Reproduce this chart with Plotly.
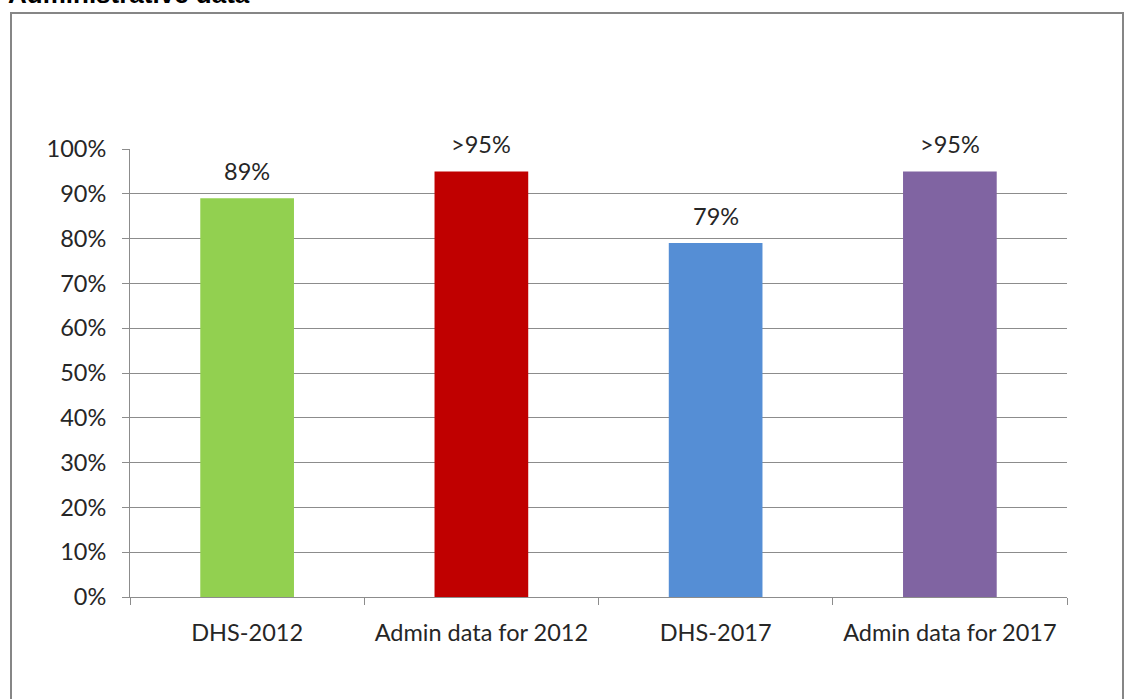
import plotly.graph_objects as go

categories = ["DHS-2012", "Admin data for 2012", "DHS-2017", "Admin data for 2017"]
values = [89, 95, 79, 95]
value_labels = ["89%", ">95%", "79%", ">95%"]
bar_colors = ["#92D050", "#C00000", "#558ED5", "#8064A2"]
y_ticks = list(range(0, 101, 10))
y_tick_labels = [f"{t}%" for t in y_ticks]

W, H = 1129, 699
FONT = "Lato"
FSIZE = 23.5
TEXT = "#262626"
GRID = "#8C8C8C"


def px_x(x):
    return x / W


def px_y(y):
    return 1 - y / H


fig = go.Figure(
    go.Bar(
        x=categories,
        y=values,
        marker=dict(color=bar_colors, line=dict(width=0)),
        width=0.4,
        hoverinfo="x+y",
    )
)

for cat, val, lab in zip(categories, values, value_labels):
    fig.add_annotation(
        x=cat, y=val, text=lab, showarrow=False,
        yanchor="middle", yshift=27,
        font=dict(family=FONT, size=FSIZE, color=TEXT),
    )

# chart title at the top left
fig.add_annotation(
    xref="paper", yref="paper", x=px_x(6), y=px_y(11),
    xanchor="left", yanchor="bottom",
    text="<b>Administrative data</b>", showarrow=False,
    font=dict(family="Liberation Sans", size=26, color="#000000"),
)

# outer frame of the chart area
fig.add_shape(
    type="rect", xref="paper", yref="paper",
    x0=px_x(11), x1=px_x(1123), y0=-0.02, y1=px_y(13),
    line=dict(color="#868686", width=2), fillcolor="rgba(0,0,0,0)",
    layer="below",
)

fig.update_layout(
    width=W, height=H,
    margin=dict(l=0, r=0, t=0, b=0, autoexpand=False),
    paper_bgcolor="white", plot_bgcolor="white",
    showlegend=False,
    font=dict(family=FONT, size=FSIZE, color=TEXT),
    bargap=0.6,
)

fig.update_xaxes(
    domain=[px_x(130), px_x(1067)],
    type="category",
    automargin=False,
    showline=True, linecolor=GRID, linewidth=1,
    ticks="outside", ticklen=7, tickcolor=GRID, tickwidth=1,
    tickson="boundaries",
    showgrid=False,
    ticklabelstandoff=15,
    tickfont=dict(family=FONT, size=FSIZE, color=TEXT),
)

fig.update_yaxes(
    domain=[px_y(597), px_y(149)],
    range=[0, 100],
    automargin=False,
    tickvals=y_ticks, ticktext=y_tick_labels,
    showline=True, linecolor=GRID, linewidth=1,
    ticks="outside", ticklen=7, tickcolor=GRID, tickwidth=1,
    showgrid=True, gridcolor=GRID, gridwidth=1,
    zeroline=False,
    ticklabelstandoff=11,
    tickfont=dict(family=FONT, size=FSIZE, color=TEXT),
)

fig.write_html("out.html")
